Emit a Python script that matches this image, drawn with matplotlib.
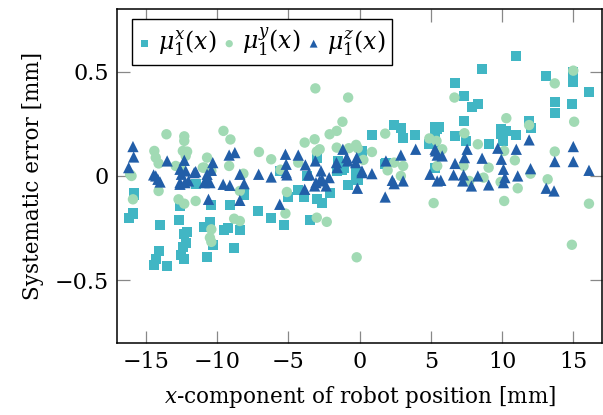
import matplotlib
matplotlib.use("Agg")
import matplotlib.pyplot as plt

# ---- data ----
sq_x = [-16.2, -15.9, -15.8, -15.8, -14.0, -14.1, -14.3, -14.4, -13.5, -12.7, -12.6, -12.1, -12.3, -12.2,
        -12.4, -12.5, -12.3, -11.5, -10.5, -10.9, -10.3, -10.7, -10.4, -9.5, -9.2, -9.1, -8.8, -8.4, -8.1,
        -8.1, -7.1, -6.2, -5.3, -5.0, -4.3, -3.9, -3.5, -3.0, -2.6, -2.1, -0.8, -0.1, -3.7, -1.2, -0.25,
        -3.0, -1.5, 0.2, 0.15, 1.85, -1.1, -0.25, 0.85, 2.4, 2.9, 3.05, 3.9, 5.3, 5.6, 5.2, 5.3, 4.9, 5.45,
        6.7, 7.3, 7.9, 8.3, 7.3, 6.7, 7.5, 9.1, 9.9, 9.9, 10.3, 10.1, 11.0, 11.9, 12.0, 11.0, 8.6, 13.1,
        15.0, 15.0, 16.1, 13.7, 13.7, 14.9, 5.3, 1.8, -5.6, -1.6]
sq_y = [-0.20, -0.18, -0.09, -0.08, -0.235, -0.36, -0.40, -0.425, -0.43, -0.21, -0.145, -0.27, -0.28, -0.32,
        -0.34, -0.38, -0.40, -0.04, -0.22, -0.245, -0.33, -0.39, -0.14, -0.26, -0.25, -0.14, -0.345, -0.26, -0.09,
        -0.08, -0.17, -0.20, -0.235, -0.10, -0.065, -0.10, -0.21, -0.11, -0.13, -0.08, -0.045, -0.02, 0.0, 0.03, -0.01,
        0.085, 0.07, 0.12, 0.088, 0.064, 0.04, 0.016, 0.197, 0.245, 0.23, 0.18, 0.197, 0.235, 0.237, 0.16, 0.19, 0.152, 0.224,
        0.446, 0.385, 0.33, 0.345, 0.265, 0.19, 0.168, 0.152, 0.20, 0.224, 0.216, 0.168, 0.197, 0.265, 0.232, 0.577, 0.513, 0.48,
        0.50, 0.453, 0.404, 0.357, 0.30, 0.345, 0.04, 0.056, 0.024, 0.024]

ci_x = [-16.1, -16.0, -14.4, -14.3, -14.1, -13.55, -12.3, -12.3, -12.1, -12.2, -12.6, -12.4, -12.9, -11.0,
        -10.7, -10.9, -10.4, -9.55, -9.06, -9.15, -8.15, -7.06, -6.2, -5.55, -4.3, -3.1, -0.8, -1.2, -1.6,
        -2.1, -3.15, -3.85, -2.8, -3.0, -1.6, -0.75, -0.24, -0.13, 0.27, 0.87, 1.8, 2.43, 3.06, 2.9, 1.97,
        4.9, 5.4, 5.45, 5.8, 6.66, 7.36, 7.3, 8.3, 9.06, 10.3, 10.15, 10.9, 11.9, 12.0, 13.2, 13.7, 13.7,
        15.0, 15.06,
        -14.1, -15.9, -12.7, -12.3, -11.5, -10.4, -10.5, -10.4, -8.8, -8.4, -8.4, -5.1, -5.2, -3.0, -2.3,
        -0.2, 5.2, 7.7, 8.7, 9.9, 10.15, 11.1, 14.9, 16.1]
ci_y = [0.008, 0.0, 0.12, 0.088, 0.06, 0.20, 0.19, 0.168, 0.117, 0.096, 0.04, 0.12, 0.048, 0.04,
        0.088, 0.04, 0.024, 0.216, 0.175, 0.048, 0.011, 0.115, 0.08, 0.03, 0.064, 0.42, 0.376, 0.26, 0.216,
        0.20, 0.176, 0.16, 0.128, 0.117, 0.136, 0.133, 0.149, 0.133, 0.077, 0.115, 0.203, 0.064, 0.048, 0.0, 0.027,
        0.18, 0.168, 0.048, 0.128, 0.376, 0.205, 0.048, 0.152, 0.04, 0.277, 0.12, 0.075, 0.244, 0.011, -0.016, 0.444, 0.117,
        0.505, 0.26,
        -0.072, -0.112, -0.112, -0.133, -0.12, -0.256, -0.296, -0.316, -0.205, -0.216, -0.072, -0.077, -0.18, -0.20, -0.22,
        -0.39, -0.13, -0.024, -0.008, -0.029, -0.12, -0.059, -0.33, -0.133]

tr_x = [-15.9, -15.85, -16.2, -14.45, -14.15, -14.0, -14.3, -13.5, -12.3, -12.6, -12.5, -12.2, -12.6, -12.25,
        -12.0, -12.6, -11.5, -11.6, -10.3, -10.4, -10.7, -10.9, -10.5, -10.7, -10.6, -9.15, -8.75, -9.57, -9.1,
        -8.1, -8.4, -8.4, -7.08, -6.2, -5.6, -5.2, -4.3, -5.15, -5.15, -5.1, -3.8, -3.57, -3.5, -3.1, -3.06,
        -2.64, -2.13, -3.85, -3.15, -2.34, -2.8, -2.7, -1.62, -1.57, -1.17, -0.9, -0.83, -0.27, -0.2, -0.15,
        0.17, 0.17, 0.87, 1.8, 1.85, 2.43, 2.3, 3.06, 2.9, 3.94, 4.94, 5.34, 5.45, 5.3, 5.45, 5.8, 5.7, 6.7,
        6.6, 7.3, 7.24, 7.55, 7.36, 7.85, 8.3, 8.6, 9.06, 9.7, 9.95, 10.1, 10.2, 10.1, 11.0, 11.1, 11.9, 12.0,
        13.1, 13.65, 13.7, 15.0, 15.0, 16.1]
tr_y = [0.141, 0.091, 0.04, 0.005, -0.016, -0.029, 0.0, 0.072, 0.075, 0.032, 0.008, 0.024, -0.032, -0.032,
        -0.024, -0.04, 0.021, 0.016, 0.064, 0.027, 0.008, -0.032, -0.032, -0.024, -0.112, 0.10, 0.112, -0.04, -0.045,
        -0.037, 0.008, -0.117, 0.008, -0.005, -0.136, 0.104, 0.10, 0.056, 0.016, 0.005, 0.053, 0.008, 0.005, 0.072, -0.032,
        -0.016, -0.008, -0.064, -0.048, -0.048, -0.024, 0.024, 0.064, 0.04, 0.128, 0.088, 0.072, 0.064, 0.088, -0.059,
        0.016, 0.024, 0.011, -0.101, 0.072, -0.037, -0.021, -0.024, 0.10, 0.128, 0.008, 0.12, 0.10, 0.128, -0.024, 0.096, -0.021, 0.06,
        0.005, 0.005, -0.024, 0.128, 0.088, -0.048, 0.0, 0.085, -0.043, 0.133, 0.08, 0.032, -0.008, -0.032, 0.128, 0.0, 0.173, 0.035,
        -0.059, -0.072, 0.069, 0.141, 0.069, 0.027]

labels = [r"$\mu_1^x(x)$", r"$\mu_1^y(x)$", r"$\mu_1^z(x)$"]
xticks = [-15, -10, -5, 0, 5, 10, 15]
yticks = [-0.5, 0, 0.5]

# ---- style ----
plt.rcParams["font.family"] = ["DejaVu Serif"]
plt.rcParams["mathtext.fontset"] = "dejavuserif"
plt.rcParams["axes.unicode_minus"] = True

c_sq = "#41b6c4"
c_ci = "#a1dab4"
c_tr = "#225ea8"

fig = plt.figure(figsize=(6.03, 4.15), dpi=100)
ax = fig.add_axes([0.1945, 0.174, 0.8035, 0.804])

ax.scatter(sq_x, sq_y, marker="s", s=52, color=c_sq, edgecolors="none", label=labels[0], zorder=2)
ax.scatter(ci_x, ci_y, marker="o", s=56, color=c_ci, edgecolors="none", label=labels[1], zorder=3)
ax.scatter(tr_x, tr_y, marker="^", s=66, color=c_tr, edgecolors="none", label=labels[2], zorder=4)

ax.set_xlim(-17, 17)
ax.set_ylim(-0.8, 0.8)
ax.set_xticks(xticks)
ax.set_yticks(yticks)
ax.set_yticklabels(["\u22120.5", "0", "0.5"])
ax.set_xticklabels([("\u2212" + str(-t)) if t < 0 else str(t) for t in xticks])

ax.tick_params(direction="in", length=9, width=0.9, color="#888888",
               top=True, right=True, labelsize=16, pad=6)
for sp in ax.spines.values():
    sp.set_linewidth(1.1)
    sp.set_color("black")

ax.set_xlabel(r"$x$-component of robot position [mm]", fontsize=15.5, labelpad=8)
ax.set_ylabel("Systematic error [mm]", fontsize=15.5, labelpad=8)

leg = ax.legend(loc="upper left", bbox_to_anchor=(0.03, 0.97), borderaxespad=0, ncol=3,
                fancybox=False, edgecolor="black", framealpha=1, fontsize=17,
                handlelength=0.5, handletextpad=0.3, columnspacing=0.3,
                borderpad=0.3, markerscale=0.7)
leg.get_frame().set_linewidth(1.0)

fig.savefig("out.png", dpi=100)
